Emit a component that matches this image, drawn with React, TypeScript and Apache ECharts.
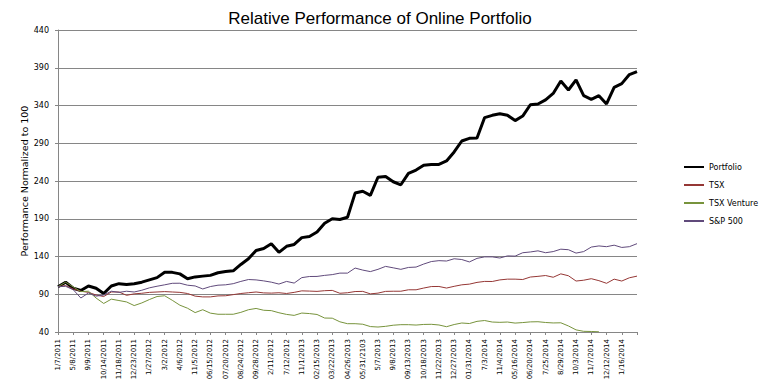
import React, { useEffect, useRef } from "react";
import * as echarts from "echarts";

const TITLE = "Relative Performance of Online Portfolio";
const Y_NAME = "Performance Normalized to 100";
const SERIES_NAMES = ["Portfolio", "TSX", "TSX Venture", "S&P 500"];
const COLORS = ["#000000", "#953735", "#77933C", "#604A7B"];

const DATE_LABELS = [
  "1/7/2011", "5/8/2011", "9/9/2011", "10/14/2011", "11/18/2011", "12/23/2011",
  "1/27/2012", "3/2/2012", "4/6/2012", "11/5/2012", "06/15/2012", "07/20/2012",
  "08/24/2012", "09/28/2012", "2/11/2012", "7/12/2012", "11/1/2013", "02/15/2013",
  "03/22/2013", "04/26/2013", "05/31/2103", "5/7/2013", "9/8/2013", "09/13/2013",
  "10/18/2013", "11/22/2013", "12/27/2013", "01/31/2014", "7/3/2014", "11/4/2014",
  "05/16/2014", "06/20/2014", "7/25/2014", "8/29/2014", "10/3/2014", "11/7/2014",
  "12/12/2014", "1/16/2014",
];

const Y_MIN = 40;
const Y_MAX = 440;
const Y_STEP = 50;

const PORTFOLIO = [
  100, 106, 98, 95, 101, 98, 91, 101, 104, 103,
  104, 106, 109, 112, 119, 119, 117, 110.5, 113, 114,
  115, 118.5, 120, 121, 129.5, 137, 148, 150.6, 157, 145.5,
  153.5, 156, 165, 166.5, 172.5, 184, 190, 189, 192, 224,
  226.5, 221, 245, 246, 239, 235, 250, 254.5, 261, 262,
  262, 266.5, 278.5, 293, 296.5, 297, 324, 327, 329, 327,
  320, 326, 341, 342, 347.5, 356, 372.5, 360.5, 374, 353,
  348, 353, 342, 364, 369, 381, 385,
];

const TSX = [
  100, 101.5, 97, 94, 92.5, 89, 87, 93, 93, 88.6,
  90.5, 91.3, 92.5, 93, 93.5, 93, 92.5, 91, 87.5, 86.5,
  86.5, 87.8, 88, 89.5, 91, 92, 93, 91.8, 91.5, 92,
  91, 92.5, 94.5, 94.2, 93.8, 94.7, 95.1, 91.3, 92, 93.6,
  93.8, 90.5, 91.5, 93.8, 94, 94, 95.9, 95.9, 98.2, 100.2,
  100.3, 98.2, 100.5, 102.5, 103.4, 105.7, 107, 106.9, 109, 110,
  110, 109.5, 112.8, 113.7, 114.8, 112.5, 117, 114.5, 107.5, 108.6,
  110.6, 108, 104.5, 110, 107.5, 111.8, 114,
];

const TSX_VENTURE = [
  100, 106, 99.7, 93.5, 94, 85, 77.8, 83.5, 81.7, 79.8,
  75, 78.5, 83, 87, 88, 82, 75.5, 71.5, 65.7, 69.5,
  65, 63.5, 63.5, 63.5, 66, 69.5, 71.2, 68.8, 68.3, 65.5,
  63.3, 62, 65.1, 64.4, 63.2, 58.5, 58.3, 53.5, 51, 51,
  50.3, 47.2, 46.6, 47.5, 49, 49.7, 49.7, 49.2, 50, 50.2,
  49.3, 47, 49.9, 51.9, 51.2, 54.1, 55.2, 53.2, 52.8, 53.2,
  51.8, 52.5, 53.4, 53.6, 52.6, 52, 52.2, 48, 42.8, 40.9,
  40.7, 40.3, null, null, null, null, null,
];

const SP500 = [
  100, 100.5, 96, 85, 91.7, 87.5, 89, 94, 92.5, 94,
  93, 95.3, 98.5, 100.6, 102.5, 104.5, 104.6, 102, 101, 97,
  100.2, 102, 102.5, 104, 107, 109.5, 109, 107.7, 106, 103.5,
  107, 104.8, 112, 113.5, 113.6, 115, 116, 118, 118, 124.7,
  122, 120, 123, 126.9, 125, 123, 125.5, 126, 130, 133.3,
  134.5, 134, 137, 136, 132.8, 137.5, 139.5, 139.5, 138, 140.8,
  140.5, 145, 146, 147.5, 145, 146.5, 149.7, 149, 144.5, 146.5,
  152.5, 154, 153, 155, 152, 153, 157,
];

const SERIES_DATA = [PORTFOLIO, TSX, TSX_VENTURE, SP500];
const LINE_WIDTHS = [3, 1, 1, 1];

export default function App() {
  const ref = useRef<HTMLDivElement>(null);

  useEffect(() => {
    if (!ref.current) return;
    const chart = echarts.init(ref.current, undefined, { renderer: "svg" });

    const categories: string[] = [];
    DATE_LABELS.forEach((l) => {
      categories.push(l);
      categories.push("");
    });
    while (categories.length < PORTFOLIO.length) categories.push("");

    const shift = (arr: (number | null)[]) =>
      arr.map((v) => (v == null ? null : v - Y_MIN));

    chart.setOption({
      animation: false,
      backgroundColor: "#ffffff",
      title: {
        text: TITLE,
        left: "center",
        top: 5,
        textStyle: {
          fontFamily: "Liberation Sans, Arial",
          fontSize: 17,
          fontWeight: "normal",
          color: "#000",
        },
      },
      legend: {
        orient: "vertical",
        left: 678,
        top: 158,
        itemWidth: 20,
        itemHeight: 10,
        itemGap: 10,
        itemStyle: { opacity: 0 },
        textStyle: { fontFamily: "DejaVu Sans", fontSize: 8, color: "#000" },
        data: SERIES_NAMES,
      },
      grid: { left: 58, right: 123, top: 30, bottom: 58, containLabel: false },
      xAxis: {
        type: "category",
        boundaryGap: false,
        data: categories,
        axisLine: { lineStyle: { color: "#868686", width: 1 } },
        axisTick: { show: true, interval: 1, length: 3, lineStyle: { color: "#868686" } },
        axisLabel: {
          interval: 1,
          rotate: 90,
          margin: 7,
          fontFamily: "DejaVu Sans",
          fontSize: 7,
          color: "#000",
        },
        splitLine: { show: false },
      },
      yAxis: {
        type: "value",
        min: 0,
        max: Y_MAX - Y_MIN,
        interval: Y_STEP,
        name: Y_NAME,
        nameLocation: "middle",
        nameGap: 29,
        nameMoveOverlap: false,
        nameTextStyle: { fontFamily: "DejaVu Sans", fontSize: 9.5, color: "#000" },
        axisLine: { show: true, lineStyle: { color: "#868686", width: 1 } },
        axisTick: { show: true, length: 3, lineStyle: { color: "#868686" } },
        axisLabel: {
          formatter: (v: number) => String(v + Y_MIN),
          margin: 9,
          fontFamily: "DejaVu Sans",
          fontSize: 8,
          color: "#000",
        },
        splitLine: { show: true, lineStyle: { color: "#868686", width: 1 } },
      },
      series: SERIES_NAMES.map((name, i) => ({
        name,
        type: "line",
        data: shift(SERIES_DATA[i]),
        symbol: "none",
        showSymbol: false,
        connectNulls: false,
        color: COLORS[i],
        lineStyle: { color: COLORS[i], width: LINE_WIDTHS[i] },
      })),
    });

    return () => chart.dispose();
  }, []);

  return (
    <div
      ref={ref}
      style={{ position: "fixed", left: 0, top: 0, width: 760, height: 390, background: "#fff" }}
    />
  );
}
